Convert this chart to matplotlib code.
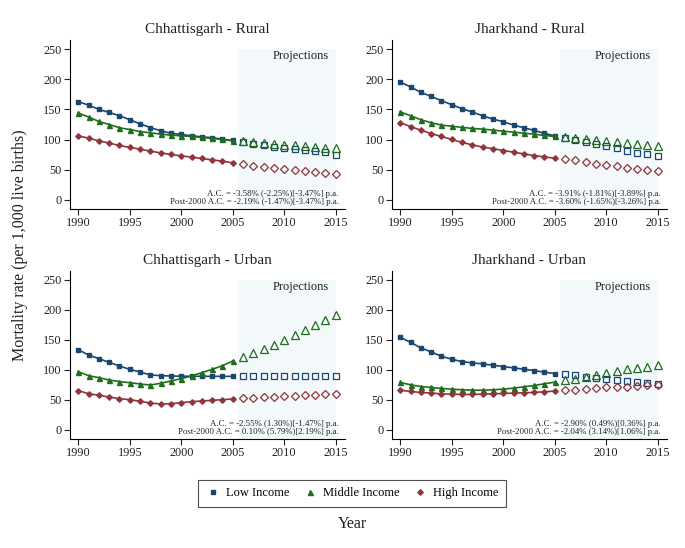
import numpy as np
import matplotlib
matplotlib.use("Agg")
import matplotlib.pyplot as plt
from matplotlib.lines import Line2D

plt.rcParams['font.family'] = ['Liberation Serif', 'DejaVu Serif']

hist_years = list(range(1990, 2006))
proj_years = list(range(2006, 2016))

# Chhattisgarh - Rural
cr_low = [163, 157, 150, 145, 139.5, 133, 126, 120, 114.5, 110.5, 108.5, 106.3, 104.6, 103, 100.8, 98.6]
cr_mid = [144, 137.5, 130, 125, 119.6, 116.7, 113.4, 111.2, 109.1, 107.3, 106.3, 105.2, 103.5, 101.9, 100.2, 98]
cr_high = [106, 102.5, 98, 94.2, 90.3, 87, 84.2, 80.9, 78, 75.3, 73.1, 70.9, 68.7, 66.4, 64.2, 61.5]
cr_low_p = [95.2, 93, 90.3, 87.5, 85.9, 84.2, 82.5, 80.3, 78.7, 74.7]
cr_mid_p = [97.4, 95.7, 94.2, 93.2, 91.6, 90.8, 89.1, 87.9, 86.4, 85.3]
cr_high_p = [59.2, 57, 55.2, 53.6, 51.5, 49.8, 48.2, 46.5, 45.4, 43.2]

# Jharkhand - Rural
jr_low = [195.5, 187.2, 178.3, 171.6, 164.5, 157.8, 151.2, 145.6, 139.5, 133.9, 129.6, 124, 119.6, 115.2, 110.2, 106.3]
jr_mid = [146, 139.5, 132.9, 128, 124, 122.2, 120.2, 118.5, 117.4, 115.7, 114, 112.3, 110.7, 109, 106.8, 105.2]
jr_high = [128, 121.6, 115.6, 110, 105.2, 100.2, 95.2, 91.3, 87.5, 85, 81.9, 79.2, 76.3, 73.6, 71.3, 69.2]
jr_low_p = [103, 99.1, 95.7, 92.4, 88.6, 85.3, 81.9, 78, 75.3, 72]
jr_mid_p = [104.1, 101.9, 100.2, 98.6, 96.9, 95.2, 93.6, 91.9, 90.3, 89.1]
jr_high_p = [67.6, 65.9, 62.5, 60.3, 58.1, 55.9, 53.6, 51.5, 49.8, 48.2]

# Chhattisgarh - Urban
cu_low = [133.9, 125, 118.9, 112.8, 106.7, 101.1, 96.7, 91.7, 90.6, 90, 89.7, 89.5, 89.5, 89.4, 89.4, 89.4]
cu_mid = [97.2, 90.6, 87.2, 83.3, 80.6, 78.9, 76.7, 75, 77.8, 81.7, 85.6, 90, 95.6, 101.1, 107.2, 115]
cu_high = [65.6, 60.6, 57.8, 55, 52.2, 50.6, 47.8, 45, 43.3, 43.9, 45.6, 47.2, 48.3, 49.4, 50.6, 51.7]
cu_low_p = [89.2, 89.2, 89.2, 89.2, 89.2, 89.2, 89.2, 89.2, 89.2, 89.2]
cu_mid_p = [121.7, 128.3, 135.6, 142.2, 150, 157.8, 166.1, 175, 183.3, 192.2]
cu_high_p = [52.8, 53.9, 54.4, 55.6, 56.1, 57.2, 57.8, 58.9, 59.4, 60.6]

# Jharkhand - Urban
ju_low = [154.5, 146.2, 136.8, 130.2, 122.9, 117.9, 114, 111.8, 110.2, 108, 105.8, 103.5, 101.3, 99.1, 96.3, 94.1]
ju_mid = [79.2, 75.3, 72.5, 70.9, 69.2, 68.1, 67, 66.4, 66.4, 67, 68.1, 69.8, 72, 74.2, 77, 79.7]
ju_high = [66.4, 64.2, 62.6, 61.5, 60.3, 59.8, 59.2, 59.2, 59.8, 60.3, 60.9, 61.5, 62, 62.6, 63.7, 64.8]
ju_low_p = [93, 91.4, 89.1, 87.5, 85.3, 83.6, 81.9, 79.7, 78.1, 76.4]
ju_mid_p = [83, 85.8, 88.6, 91.9, 95.2, 98.6, 101.3, 103.5, 105.8, 108.6]
ju_high_p = [66.4, 67.5, 68.7, 69.8, 70.9, 71.4, 72.5, 73.6, 74.7, 75.8]

titles = ["Chhattisgarh - Rural", "Jharkhand - Rural", "Chhattisgarh - Urban", "Jharkhand - Urban"]
notes = [
    ("A.C. = -3.58% (-2.25%)[-3.47%] p.a.", "Post-2000 A.C. = -2.19% (-1.47%)[-3.47%] p.a."),
    ("A.C. = -3.91% (-1.81%)[-3.89%] p.a.", "Post-2000 A.C. = -3.60% (-1.65%)[-3.26%] p.a."),
    ("A.C. = -2.55% (1.30%)[-1.47%] p.a.", "Post-2000 A.C. = 0.10% (5.79%)[2.19%] p.a."),
    ("A.C. = -2.90% (0.49%)[0.36%] p.a.", "Post-2000 A.C. = -2.04% (3.14%)[1.06%] p.a."),
]
panels = [
    (cr_low, cr_mid, cr_high, cr_low_p, cr_mid_p, cr_high_p),
    (jr_low, jr_mid, jr_high, jr_low_p, jr_mid_p, jr_high_p),
    (cu_low, cu_mid, cu_high, cu_low_p, cu_mid_p, cu_high_p),
    (ju_low, ju_mid, ju_high, ju_low_p, ju_mid_p, ju_high_p),
]

blue = "#1a476f"
green = "#1e6e1e"
red = "#90353b"
colors = [blue, green, red]
markers = ["s", "^", "D"]
msize = [3.2, 3.6, 2.8]
psize = [4.6, 5.2, 4.2]
txt = "#222222"

fig = plt.figure(figsize=(6.85, 5.48), dpi=100)
W, H = 685, 548
boxes = [(70, 40, 345, 209), (392, 40, 667, 209), (70, 271, 345, 439), (392, 271, 667, 439)]

for i, (l, t, r, b) in enumerate(boxes):
    ax = fig.add_axes([l / W, 1 - b / H, (r - l) / W, (b - t) / H])
    ax.fill_between([2005.5, 2015.05], -15, 250, color="#f3f8fb", lw=0, zorder=0)
    data = panels[i]
    for k in range(3):
        ax.plot(hist_years, data[k], color=colors[k], lw=1.2, marker=markers[k],
                ms=msize[k], zorder=3)
        ax.plot(proj_years, data[k + 3], ls="none", marker=markers[k], ms=psize[k],
                mfc="none", mec=colors[k], mew=0.9, zorder=3)
    ax.set_xlim(1989.2, 2015.9)
    ax.set_ylim(-15, 265)
    ax.set_xticks([1990, 1995, 2000, 2005, 2010, 2015])
    ax.set_yticks([0, 50, 100, 150, 200, 250])
    ax.spines["top"].set_visible(False)
    ax.spines["right"].set_visible(False)
    ax.spines["left"].set_linewidth(0.8)
    ax.spines["bottom"].set_linewidth(0.8)
    ax.tick_params(direction="out", length=4, width=0.8, labelsize=8.8, pad=2, colors=txt)
    ax.set_title(titles[i], fontsize=11, pad=5, color=txt)
    ax.text(2011.6, 239, "Projections", ha="center", va="center", fontsize=9, color=txt)
    ax.text(2015.3, 10, notes[i][0], ha="right", va="center", fontsize=6.3, color=txt)
    ax.text(2015.3, -3, notes[i][1], ha="right", va="center", fontsize=6.3, color=txt)

fig.text(20 / W, 1 - 245 / H, "Mortality rate (per 1,000 live births)", rotation=90,
         ha="center", va="center", fontsize=11.5, color=txt)
fig.text(352 / W, 1 - 524 / H, "Year", ha="center", va="center", fontsize=11.5, color=txt)

handles = [Line2D([], [], ls="none", marker=markers[k], ms=msize[k], color=colors[k]) for k in range(3)]
leg = fig.legend(handles, ["Low Income", "Middle Income", "High Income"], loc="center",
                 bbox_to_anchor=(352 / W, 1 - 493 / H), ncol=3, fontsize=9, frameon=True,
                 fancybox=False, edgecolor=txt, handletextpad=0.5, columnspacing=1.1,
                 borderpad=0.6, handlelength=1.1)
leg.get_frame().set_linewidth(0.8)

fig.savefig("out.png", dpi=100, facecolor="white")
